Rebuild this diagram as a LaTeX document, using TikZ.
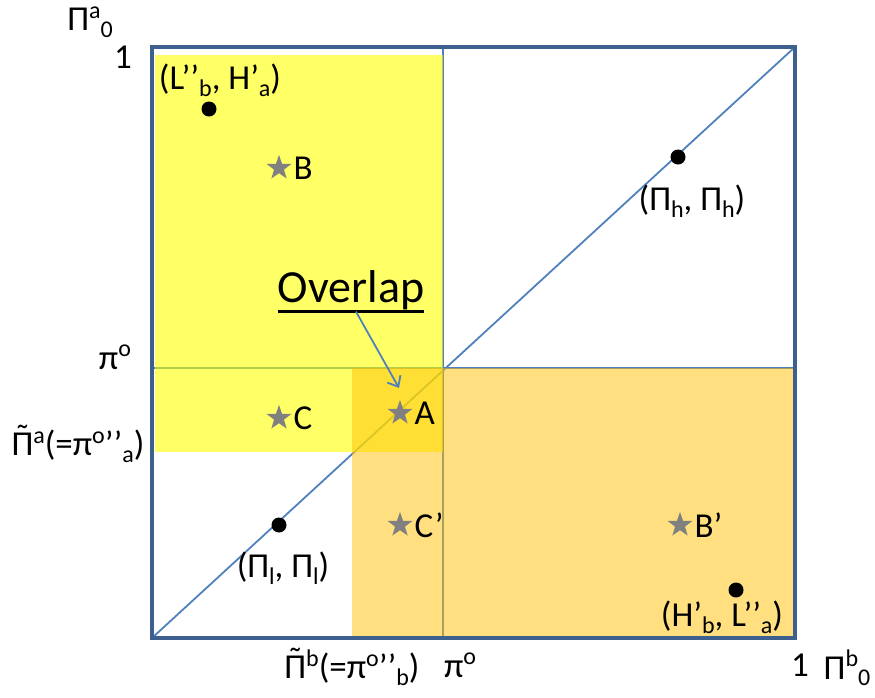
\documentclass[tikz,border=0pt]{standalone}
\usepackage{fontspec}
\setmainfont{Carlito}
\usetikzlibrary{arrows.meta,shapes.geometric}
\definecolor{frameblue}{RGB}{62,96,142}
\definecolor{lineblue}{RGB}{79,129,189}
\definecolor{hiyellow}{RGB}{255,255,0}
\definecolor{gold}{RGB}{255,192,0}
\definecolor{stargray}{RGB}{128,128,128}
\newcommand\lo[1]{\raisebox{-0.4ex}{\fontsize{24}{24}\selectfont #1}}
\newcommand\hi[1]{\raisebox{0.75ex}{\fontsize{24}{24}\selectfont #1}}
\newcommand\tPi{\leavevmode\rlap{\hbox to \fontcharwd\font`Π{\hss\raisebox{0.2em}{\char"02DC}\hss}}Π}
\newcommand\thickul[1]{\vtop{\hbox{#1}\kern1pt\hrule height 3pt}}
\tikzset{
  lbl/.style={font=\fontsize{35}{40}\selectfont, inner sep=0pt},
  starmark/.style={star, star points=5, star point ratio=2.5, fill=stargray, draw=none, minimum size=26pt, inner sep=0pt},
  dotmark/.style={circle, fill=black, minimum size=15pt, inner sep=0pt},
  gridline/.style={lineblue, line width=1.8pt},
}
\begin{document}
\begin{tikzpicture}[x=1pt, y=-1pt]
  \useasboundingbox (0,0) rectangle (875,697);
  % axes and guide lines
  \draw[gridline] (443,47) -- (443,638);
  \draw[gridline] (152,368) -- (795,368);
  \draw[gridline] (152,638) -- (795,47);
  % regions
  \fill[hiyellow, opacity=0.6] (155,55) rectangle (443,452);
  \fill[gold, opacity=0.5] (352,368) rectangle (793,636);
  \draw[frameblue, line width=4pt] (152,47) rectangle (795,638);

  % axis labels
  \node[lbl] (ya) at (90,22) {Π\hi{a}\lo{0}};
  \node[lbl] (yone) at (123,57) {1};
  \node[lbl] (ypi) at (115,357) {π\hi{o}};
  \node[lbl] (ytil) at (78,444) {\tPi\hi{a}(=π\hi{o}’’\lo{a})};
  \node[lbl] (xtil) at (352,667) {\tPi\hi{b}(=π\hi{o}’’\lo{b})};
  \node[lbl] (xpi) at (460,665) {π\hi{o}};
  \node[lbl] (xone) at (800,665) {1};
  \node[lbl] (xb) at (847,668) {Π\hi{b}\lo{0}};

  % points
  \node[dotmark] (LH) at (209,109) {};
  \node[lbl] (LHl) at (220,80) {(L’’\lo{b}, H’\lo{a})};
  \node[dotmark] (hh) at (678,157) {};
  \node[lbl] (hhl) at (692,201) {(Π\lo{h}, Π\lo{h})};
  \node[dotmark] (ll) at (279,525) {};
  \node[lbl] (lll) at (283,568) {(Π\lo{l}, Π\lo{l})};
  \node[dotmark] (HL) at (736,590) {};
  \node[lbl] (HLl) at (722,617) {(H’\lo{b}, L’’\lo{a})};

  \node[starmark, label={[lbl, xshift=7pt]right:B}] (B) at (279,168) {};
  \node[starmark, label={[lbl, xshift=7pt]right:C}] (C) at (279,418) {};
  \node[starmark, label={[lbl, xshift=7pt]right:A}] (A) at (400,413) {};
  \node[starmark, label={[lbl, xshift=7pt]right:C’}] (Cp) at (400,525) {};
  \node[starmark, label={[lbl, xshift=7pt]right:B'}] (Bp) at (680,525) {};

  \node[lbl, font=\fontsize{46}{50}\selectfont, anchor=base] (ov) at (351,302) {\thickul{Overlap}};
  \coordinate (tip) at (399,388);
  \draw[lineblue, line width=1.8pt, -{Straight Barb[length=9pt, width=15pt]}] ([xshift=5pt, yshift=2pt]ov.south) -- (tip);
\end{tikzpicture}
\end{document}
